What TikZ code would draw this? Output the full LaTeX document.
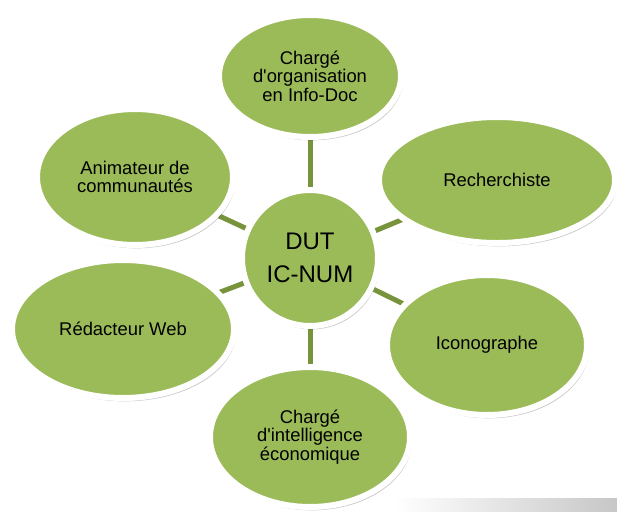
\documentclass[tikz,border=0pt]{standalone}
\usepackage{fontspec}
\setmainfont{Liberation Sans}
\usetikzlibrary{shapes.geometric,shadows,backgrounds}
\definecolor{olivefill}{RGB}{155,187,89}
\definecolor{oliveline}{RGB}{119,147,60}
\tikzset{
  jobbubble/.style={ellipse,fill=olivefill,draw=white,line width=4.5pt,inner sep=0pt,
    align=center,font=\fontsize{13.8}{13.8}\selectfont,
    drop shadow={shadow xshift=1.5pt,shadow yshift=-2.5pt,opacity=.22,fill=black}},
  hubbubble/.style={jobbubble,circle,font=\fontsize{18}{25}\selectfont},
  spoke/.style={draw=oliveline,line width=3.75pt}
}
\begin{document}
\begin{tikzpicture}[x=0.75pt,y=0.75pt,yscale=-1,xscale=1]
\useasboundingbox (0,0) rectangle (617,511);

%Shape: bar bottom right
\fill [left color=white,right color=black!22] (395,498) rectangle (617,511);

%Shape: Circle (hub)
\node [hubbubble,minimum size=102pt] (dut) at (310,258) {DUT\\IC-NUM};

%Shape: Ellipses (jobs)
\node [jobbubble,minimum width=136.5pt,minimum height=91.5pt] (orga) at (310,76) {Chargé\\d\textquotesingle organisation\\en Info-Doc};
\node [jobbubble,minimum width=177pt,minimum height=94.5pt] (recherche) at (497,180) {Recherchiste};
\node [jobbubble,minimum width=150pt,minimum height=105pt] (icono) at (487,345) {Iconographe};
\node [jobbubble,minimum width=150pt,minimum height=105pt] (veille) at (310,437) {Chargé\\d\textquotesingle intelligence\\économique};
\node [jobbubble,minimum width=166.5pt,minimum height=103.5pt] (redac) at (123,329) {Rédacteur Web};
\node [jobbubble,minimum width=147pt,minimum height=102pt] (anim) at (135,177) {Animateur de\\communautés};

%Straight Lines (spokes)
\begin{pgfonlayer}{background}
\foreach \job in {orga,recherche,icono,veille,redac,anim}
  \draw [spoke] (dut.center) -- (\job.center);
\end{pgfonlayer}

\end{tikzpicture}
\end{document}
